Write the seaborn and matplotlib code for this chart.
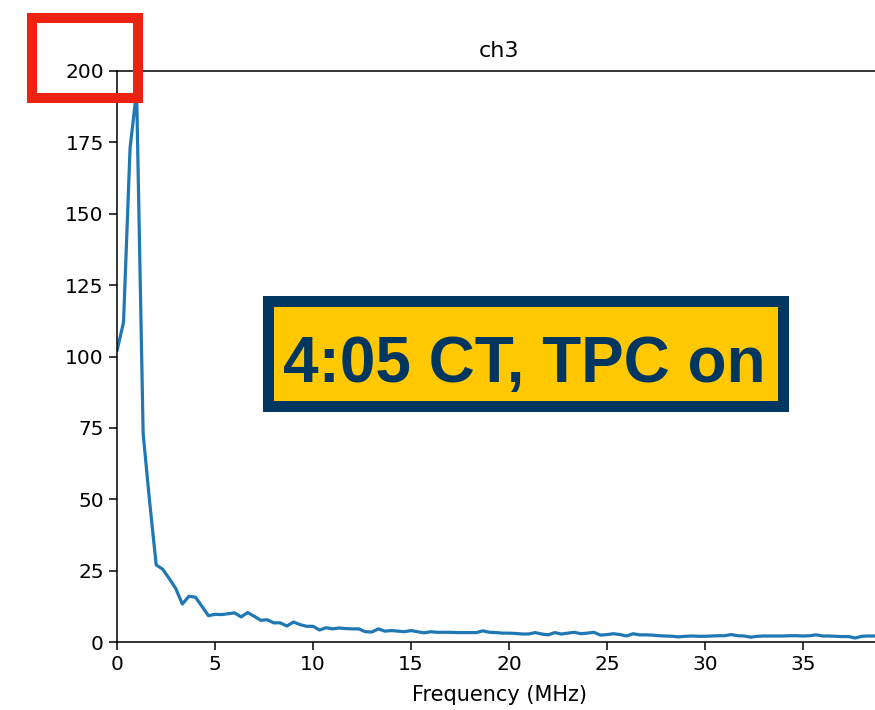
import numpy as np
import pandas as pd
import seaborn as sns
import matplotlib
matplotlib.use("Agg")
import matplotlib.pyplot as plt
from matplotlib.patches import Rectangle

# ---- data ----
freq_step_mhz = 1.0 / 3.0
amplitude = [
    102, 112, 173, 193, 73, 49, 27, 25.5, 22.2, 18.7,
    13.3, 16.0, 15.7, 12.5, 9.2, 9.7, 9.6, 9.9, 10.2, 8.8,
    10.3, 9.0, 7.6, 7.8, 6.7, 6.7, 5.6, 7.0, 6.1, 5.5,
    5.5, 4.2, 5.0, 4.6, 4.9, 4.7, 4.6, 4.6, 3.6, 3.5,
    4.6, 3.8, 4.0, 3.8, 3.6, 4.0, 3.6, 3.2, 3.6, 3.4,
    3.4, 3.4, 3.3, 3.3, 3.3, 3.3, 3.9, 3.4, 3.3, 3.1,
    3.1, 3.0, 2.8, 2.8, 3.3, 2.8, 2.5, 3.3, 2.8, 3.1,
    3.4, 2.9, 3.1, 3.4, 2.4, 2.6, 2.9, 2.6, 2.1, 2.9,
    2.5, 2.5, 2.4, 2.2, 2.1, 2.0, 1.8, 2.0, 2.1, 2.0,
    2.0, 2.1, 2.2, 2.2, 2.6, 2.2, 2.1, 1.7, 2.0, 2.1,
    2.1, 2.1, 2.1, 2.2, 2.2, 2.1, 2.2, 2.5, 2.1, 2.1,
    2.0, 1.9, 1.9, 1.4, 2.0, 2.1, 2.1, 2.1,
]
frequency = [i * freq_step_mhz for i in range(len(amplitude))]
x_ticks = [0, 5, 10, 15, 20, 25, 30, 35]
y_ticks = [0, 25, 50, 75, 100, 125, 150, 175, 200]
title_text = "ch3"
x_label = "Frequency (MHz)"
banner_text = "4:05 CT, TPC on"

df = pd.DataFrame({"Frequency (MHz)": frequency, "amp": amplitude})

sns.set_style("ticks")
plt.rcParams["font.family"] = ["DejaVu Sans"]
plt.rcParams["text.color"] = "black"
plt.rcParams["axes.labelcolor"] = "black"

W, H = 875, 710
fig = plt.figure(figsize=(W / 100, H / 100), dpi=100)
fig.patch.set_facecolor("white")

left_px, right_px, top_px, bottom_px = 117, 117 + 39 * 19.6, 71, 642
ax = fig.add_axes([left_px / W, (H - bottom_px) / H,
                   (right_px - left_px) / W, (bottom_px - top_px) / H])

sns.lineplot(data=df, x="Frequency (MHz)", y="amp", ax=ax,
             color="#1f77b4", linewidth=2.3)

ax.set_xlim(0, 39)
ax.set_ylim(0, 200)
ax.set_xticks(x_ticks)
ax.set_yticks(y_ticks)
ax.set_xlabel(x_label, fontsize=15, labelpad=8, color="black")
ax.set_ylabel("")
ax.set_title(title_text, fontsize=16, pad=10, color="black")
ax.tick_params(axis="both", labelsize=14.5, length=6, width=1.1, color="black",
               labelcolor="black", direction="out")
for s in ax.spines.values():
    s.set_visible(True)
    s.set_linewidth(1.1)
    s.set_color("black")

# banner box
bx0, bx1, by0, by1 = 262, 788, 295, 411
bw = 11
rect = Rectangle(((bx0 + bw / 2) / W, (H - (by1 - bw / 2)) / H),
                 (bx1 - bx0 - bw) / W, (by1 - by0 - bw) / H,
                 transform=fig.transFigure, facecolor="#FFC800",
                 edgecolor="#003660", linewidth=bw * 0.72, zorder=5)
fig.add_artist(rect)
fig.text(524.5 / W, (H - 382) / H, banner_text, ha="center", va="baseline",
         fontsize=46, fontweight="bold", color="#003660",
         family=["Liberation Sans", "DejaVu Sans"], zorder=6)

# red highlight rectangle
rx0, rx1, ry0, ry1 = 27, 143, 12.5, 102.5
rw = 10
red = Rectangle(((rx0 + rw / 2) / W, (H - (ry1 - rw / 2)) / H),
                (rx1 - rx0 - rw) / W, (ry1 - ry0 - rw) / H,
                transform=fig.transFigure, facecolor="none",
                edgecolor="#EE2211", linewidth=rw * 0.72, zorder=10)
fig.add_artist(red)

fig.savefig("out.png", dpi=100)
